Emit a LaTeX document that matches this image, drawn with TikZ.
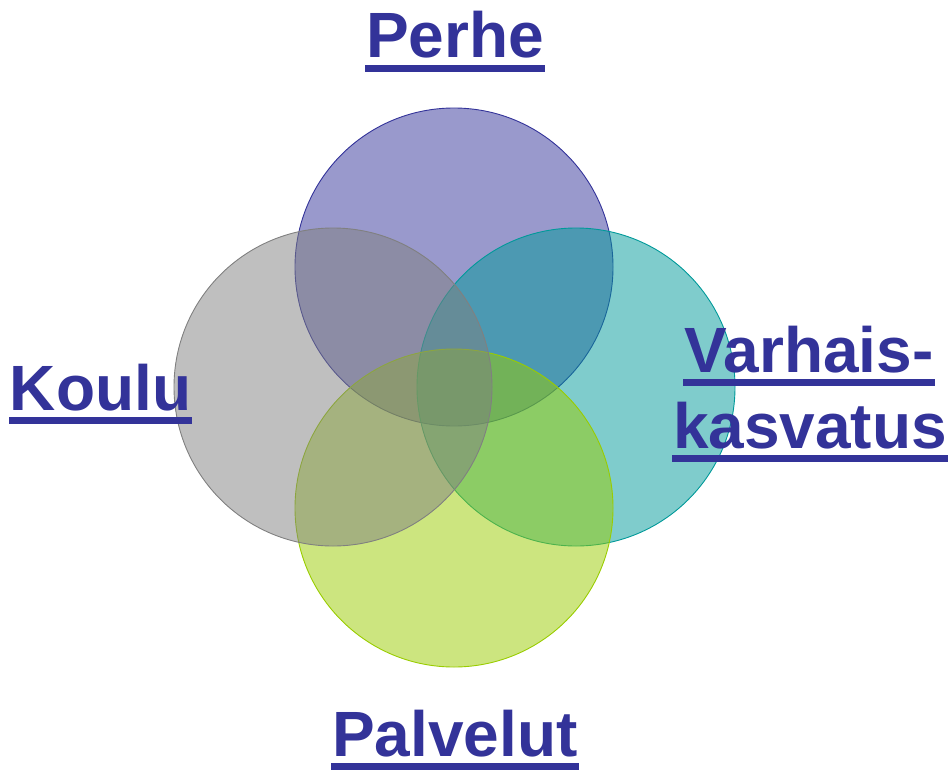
\documentclass[tikz,border=0pt]{standalone}
\usepackage{fontspec}
\setmainfont{Liberation Sans}
\definecolor{cPerhe}{RGB}{51,51,153}
\definecolor{cKoulu}{RGB}{128,128,128}
\definecolor{cVarh}{RGB}{0,153,153}
\definecolor{cPalv}{RGB}{153,204,0}
\definecolor{txt}{RGB}{51,51,153}
\tikzset{
  venn/.style={circle, minimum size=318pt, inner sep=0pt, outer sep=0pt, line width=0.9pt, draw=#1, fill=#1, fill opacity=0.5},
  lbl/.style={anchor=base, inner sep=0pt, outer sep=0pt, text=txt, font=\fontsize{64}{76}\selectfont\bfseries}
}
\newcommand{\ulbox}[1]{\fill[txt] ([xshift=-1pt,yshift=-7pt]#1.base west) rectangle ([xshift=1pt,yshift=-14pt]#1.base east);}
\begin{document}
\begin{tikzpicture}[x=1pt,y=-1pt]
\useasboundingbox (0,0) rectangle (949,773);
\node[venn=cPerhe] (cP) at (454,267) {};
\node[venn=cVarh]  (cV) at (576,387) {};
\node[venn=cPalv]  (cL) at (454,508) {};
\node[venn=cKoulu] (cK) at (333,387) {};
\node[lbl] (tP) at (455,58) {Perhe};
\node[lbl] (tK) at (100.5,410) {Koulu};
\node[lbl] (tV1) at (809,372) {Varhais-};
\node[lbl] (tV2) at (810,448) {kasvatus};
\node[lbl] (tL) at (455,756) {Palvelut};
\ulbox{tP}
\ulbox{tK}
\ulbox{tV1}
\ulbox{tV2}
\ulbox{tL}
\end{tikzpicture}
\end{document}
